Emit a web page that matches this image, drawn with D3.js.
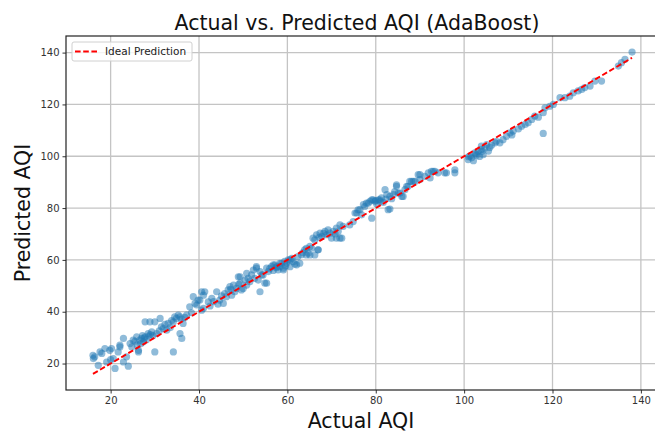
<!DOCTYPE html>
<html>
<head>
<meta charset="utf-8">
<script src="https://cdn.jsdelivr.net/npm/d3@7"></script>
<style>
  body { margin: 0; background: #fff; }
  svg { display: block; font-family: "DejaVu Sans", sans-serif; }
</style>
</head>
<body>
<svg id="chart" width="655" height="433"></svg>
<script>
// actual vs predicted AQI
let actualAQI = [
  16.0, 16.1, 16.4, 17.2, 17.6, 18.0, 18.7, 19.1, 19.8, 20.2, 20.0, 20.6, 21.0, 21.7, 22.1, 22.1,
  22.9, 22.9, 23.6, 24.0, 24.4, 24.8, 25.1, 25.5, 25.9, 26.0, 26.3, 26.3, 26.6, 26.8, 27.0, 27.2,
  27.4, 27.8, 27.8, 28.1, 28.5, 28.7, 28.9, 29.3, 29.6, 30.0, 30.0, 30.4, 31.2, 31.5, 31.9, 32.3,
  32.7, 33.0, 33.5, 34.2, 34.2, 34.5, 34.9, 35.3, 35.7, 35.7, 36.1, 36.4, 36.8, 37.2, 37.9, 38.3,
  38.7, 39.1, 39.5, 39.8, 40.2, 40.6, 40.6, 41.0, 41.0, 41.3,
  42.1, 42.5, 42.9, 43.3, 44.0, 44.3, 44.7, 45.1, 45.5, 45.8, 46.2, 46.6, 47.0, 47.4, 47.8, 48.1,
  48.5, 48.9, 49.3, 49.3, 49.6, 50.0, 50.4, 50.8, 50.8, 51.1, 51.5, 51.9, 52.3, 52.6, 53.0, 53.0,
  53.4, 53.8, 53.8, 54.2, 54.5, 54.9, 55.3, 55.3, 55.7, 56.4, 56.8, 56.8, 57.2, 57.5, 57.6, 57.9,
  58.3, 58.3, 58.7, 59.1, 59.1, 59.4, 59.8, 60.2, 60.6, 60.6, 61.0, 61.3, 61.7, 62.1, 62.4, 62.8,
  63.2, 63.9, 64.3, 64.3, 64.7, 65.1, 65.1, 65.5, 65.8, 66.2, 66.2, 66.6, 66.9, 67.0, 67.4, 67.8,
  68.5, 68.9, 69.2, 69.6, 70.0, 70.4, 71.1, 71.1, 71.5, 71.9, 71.9, 72.3, 72.6,
  74.1, 74.9, 75.3, 75.7, 76.0, 76.4, 76.8, 77.2, 77.5, 77.9, 78.3, 78.7, 79.1, 79.1, 79.4, 79.8,
  80.2, 80.6, 80.9, 81.3, 81.7, 82.1, 82.5, 82.8, 83.2, 83.2, 83.6, 84.0, 84.3, 84.7, 84.7, 85.1,
  85.5, 85.9, 86.2, 86.6, 87.0, 87.3, 87.7, 88.1, 88.5, 88.9, 89.6, 90.0, 90.0, 91.1, 91.9, 92.3,
  92.6, 93.0, 93.4, 94.1, 95.6, 96.0, 97.9, 97.9,
  100.9, 101.3, 101.7, 102.1, 102.4, 102.8, 103.2, 103.5, 103.9, 103.9, 104.3, 104.7, 105.1, 105.5,
  106.2, 107.0, 107.3, 108.1, 108.8, 109.6, 110.4, 110.8, 111.1, 112.3, 113.0, 113.8, 114.5, 115.3,
  116.0, 116.8, 117.9, 117.9, 118.3, 119.4, 120.2, 121.7, 122.8, 123.9, 124.7, 125.8, 126.6, 127.3,
  128.5, 129.6, 131.1, 134.9, 135.6, 136.4, 138.0,
  101.0, 102.6, 104.0, 105.8, 80.0, 81.0, 82.3, 67.2, 68.2, 70.8, 27.6, 29.0, 31.0, 33.8, 36.0,
  47.2, 49.0, 56.0, 59.6, 63.5
]
let predictedAQI = [
  23.2, 21.9, 22.6, 19.3, 24.5, 23.9, 25.8, 20.6, 25.1, 25.8, 21.5, 21.9, 18.1, 24.5, 26.4, 27.1,
  29.7, 20.6, 22.6, 19.0, 27.7, 26.4, 29.0, 28.6, 30.3, 27.2, 25.1, 24.5, 29.0, 27.6, 29.7, 30.8,
  28.4, 30.3, 36.1, 29.2, 31.6, 30.6, 36.1, 32.2, 30.8, 36.1, 24.5, 31.6, 37.4, 34.2, 33.5, 35.1,
  32.9, 35.5, 33.9, 36.1, 24.5, 38.0, 37.4, 38.7, 38.0, 31.6, 29.7, 35.5, 37.8, 38.7, 41.9, 39.6,
  45.8, 43.2, 42.6, 44.5, 44.5, 47.7, 40.6, 46.4, 41.3, 47.7,
  43.8, 42.2, 45.2, 43.9, 47.7, 42.9, 44.5, 46.1, 43.2, 47.0, 45.8, 48.4, 49.7, 46.4, 50.3, 47.7,
  49.0, 53.5, 51.0, 53.5, 48.4, 49.0, 52.2, 50.3, 54.8, 52.9, 51.6, 54.2, 56.1, 52.9, 56.8, 57.4,
  52.2, 55.5, 47.7, 54.2, 54.2, 51.0, 56.8, 51.0, 55.5, 57.4, 55.9, 58.1, 58.1, 57.0, 57.4, 56.1,
  57.4, 58.7, 58.7, 56.1, 56.8, 59.4, 58.7, 60.0, 57.4, 60.0, 60.6, 59.3, 58.4, 58.1, 61.3, 58.7,
  62.0, 63.9, 61.9, 64.5, 62.6, 65.2, 61.9, 64.5, 68.4, 67.7, 61.9, 69.7, 63.9, 63.9, 70.3, 69.0,
  71.0, 69.7, 71.6, 70.3, 68.4, 71.0, 68.4, 72.3, 71.0, 68.4, 73.5, 68.4, 72.9,
  73.5, 74.8, 78.1, 78.1, 79.3, 79.4, 77.4, 81.3, 80.6, 81.9, 81.9, 82.6, 76.1, 83.2, 83.2, 82.6,
  81.6, 83.2, 83.2, 83.9, 82.2, 87.1, 85.2, 79.4, 84.5, 79.6, 83.6, 85.2, 86.4, 88.4, 89.0, 85.8,
  85.8, 84.5, 84.5, 87.1, 88.4, 88.4, 90.3, 90.3, 90.3, 90.3, 92.9, 92.9, 91.0, 92.2, 93.6, 91.6,
  94.2, 94.2, 94.2, 93.6, 93.6, 93.6, 94.8, 93.6,
  98.7, 100.1, 99.4, 98.3, 101.3, 100.4, 101.9, 99.9, 102.6, 103.9, 100.6, 103.2, 104.5, 102.0,
  104.2, 105.2, 105.8, 105.2, 106.4, 107.7, 109.0, 108.2, 109.7, 110.6, 111.6, 112.3, 112.9, 114.2,
  115.5, 115.1, 116.8, 108.8, 118.7, 119.3, 120.0, 122.6, 122.6, 123.2, 124.5, 125.2, 125.8, 126.5,
  127.1, 129.0, 129.0, 134.8, 136.1, 137.4, 140.2,
  99.8, 100.9, 101.8, 103.4, 82.9, 82.5, 83.5, 68.7, 70.2, 70.0, 29.8, 31.2, 32.6, 36.6, 37.2,
  48.6, 50.6, 56.6, 57.6, 62.8
]
let xTicks = [20, 40, 60, 80, 100, 120, 140]
let yTicks = [20, 40, 60, 80, 100, 120, 140]

let points = actualAQI.map((a, i) => ({ actual: a, predicted: predictedAQI[i] }))
let lineExt = d3.extent(actualAQI)

// matplotlib style 5% margins
function padded(lo, hi) {
  let m = (hi - lo) * 0.05
  return [lo - m, hi + m]
}
let xDom = padded(lineExt[0], lineExt[1])
let yDom = padded(d3.min([lineExt[0], d3.min(predictedAQI)]), d3.max([lineExt[1], d3.max(predictedAQI)]))

let margin = { left: 66, top: 36 }
let plotW = 593
let plotH = 354

let svg = d3.select('#chart')
svg.append('rect').attr('width', 655).attr('height', 433).attr('fill', '#fff')

let xScale = d3.scaleLinear().domain(xDom).range([0, plotW])
let yScale = d3.scaleLinear().domain(yDom).range([plotH, 0])

let body = svg.append('g').attr('transform', `translate(${margin.left},${margin.top})`)

// grid
body.append('g').selectAll('line').data(xTicks).enter().append('line')
  .attr('x1', d => xScale(d)).attr('x2', d => xScale(d))
  .attr('y1', 0).attr('y2', plotH)
  .attr('stroke', '#c4c4c4').attr('stroke-width', 1.3)

body.append('g').selectAll('line').data(yTicks).enter().append('line')
  .attr('y1', d => yScale(d)).attr('y2', d => yScale(d))
  .attr('x1', 0).attr('x2', plotW)
  .attr('stroke', '#c4c4c4').attr('stroke-width', 1.3)

// points
body.append('g').selectAll('circle').data(points).enter().append('circle')
  .attr('cx', d => xScale(d.actual))
  .attr('cy', d => yScale(d.predicted))
  .attr('r', 3.6)
  .attr('fill', '#1f77b4')
  .attr('fill-opacity', 0.5)

// ideal line
let lineGen = d3.line().x(d => xScale(d)).y(d => yScale(d))
body.append('path')
  .datum(lineExt)
  .attr('d', lineGen)
  .attr('fill', 'none')
  .attr('stroke', '#ff0000')
  .attr('stroke-width', 1.9)
  .attr('stroke-dasharray', '5.6,2.6')

// axes
let axisX = d3.axisBottom(xScale).tickValues(xTicks).tickSize(3.5).tickPadding(3)
let gx = body.append('g').attr('transform', `translate(0,${plotH})`).call(axisX)
let axisY = d3.axisLeft(yScale).tickValues(yTicks).tickSize(3.5).tickPadding(3)
let gy = body.append('g').call(axisY)

;[gx, gy].forEach(g => {
  g.select('.domain').remove()
  g.selectAll('line').attr('stroke', '#333')
  g.selectAll('text').attr('fill', '#333').style('font-size', '10px').style('font-family', '"DejaVu Sans", sans-serif')
})

// spines
body.append('rect')
  .attr('width', plotW).attr('height', plotH)
  .attr('fill', 'none').attr('stroke', '#222').attr('stroke-width', 1.2)

// legend
let leg = body.append('g').attr('transform', 'translate(6,6)')
leg.append('rect')
  .attr('width', 120).attr('height', 19).attr('rx', 2)
  .attr('fill', '#fff').attr('fill-opacity', 0.8)
  .attr('stroke', '#d0d0d0')
leg.append('line')
  .attr('x1', 3).attr('x2', 25).attr('y1', 9.5).attr('y2', 9.5)
  .attr('stroke', '#ff0000').attr('stroke-width', 1.8)
  .attr('stroke-dasharray', '5.6,2.6')
leg.append('text')
  .attr('x', 33).attr('y', 13.2)
  .style('font-size', '10.5px').attr('fill', '#222')
  .text('Ideal Prediction')

// titles
svg.append('text')
  .attr('x', 357).attr('y', 30)
  .attr('text-anchor', 'middle')
  .style('font-size', '20.5px').attr('fill', '#111')
  .text('Actual vs. Predicted AQI (AdaBoost)')

svg.append('text')
  .attr('x', 361).attr('y', 428)
  .attr('text-anchor', 'middle')
  .style('font-size', '20.5px').attr('fill', '#111')
  .text('Actual AQI')

svg.append('text')
  .attr('transform', `translate(30,${margin.top + plotH / 2}) rotate(-90)`)
  .attr('text-anchor', 'middle')
  .style('font-size', '20.5px').attr('fill', '#111')
  .text('Predicted AQI')
</script>
</body>
</html>
